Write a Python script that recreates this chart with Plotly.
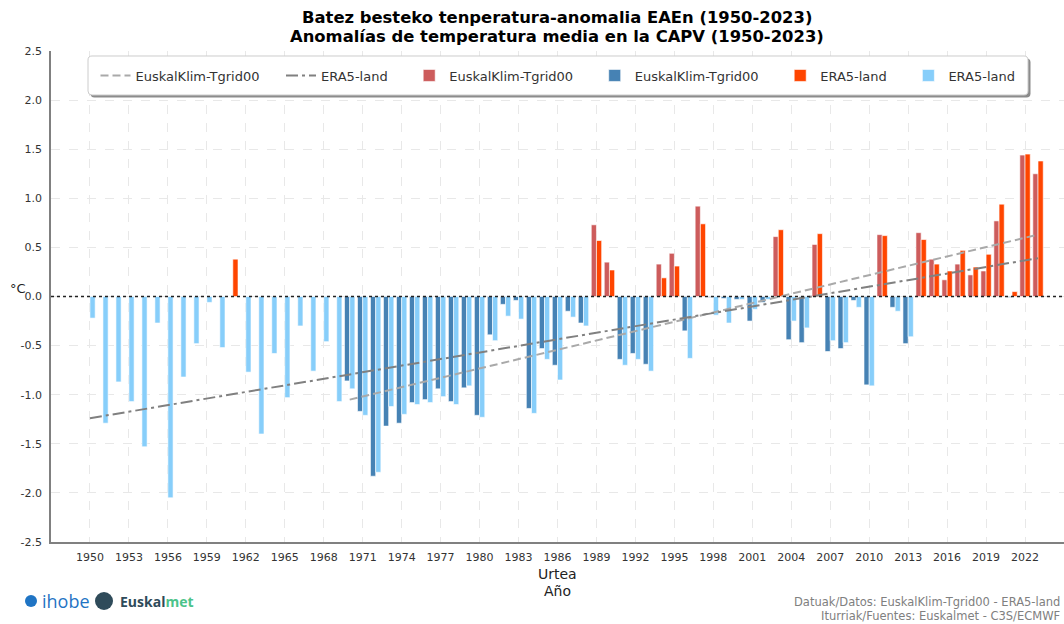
import plotly.graph_objects as go

years = list(range(1950, 2024))

era5 = [-0.22, -1.29, -0.87, -1.07, -1.53, -0.27, -2.05, -0.82, -0.48, -0.06,
        -0.52, 0.38, -0.77, -1.40, -0.58, -1.03, -0.30, -0.76, -0.46, -1.07,
        -0.94, -1.21, -1.79, -1.12, -1.20, -1.10, -1.08, -1.02, -1.10, -0.91,
        -1.23, -0.45, -0.20, -0.23, -1.19, -0.64, -0.85, -0.21, -0.30, 0.57,
        0.27, -0.70, -0.64, -0.76, 0.19, 0.31, -0.63, 0.74, -0.19, -0.27,
        -0.03, -0.13, -0.03, 0.68, -0.25, -0.32, 0.64, -0.45, -0.47, -0.11,
        -0.91, 0.62, -0.15, -0.41, 0.58, 0.33, 0.26, 0.47, 0.30, 0.43,
        0.94, 0.05, 1.45, 1.38]

euskal = [None] * 20 + [
        -0.86, -1.17, -1.83, -1.32, -1.29, -1.08, -1.05, -0.94, -1.07, -0.93,
        -1.21, -0.39, -0.08, -0.04, -1.14, -0.53, -0.70, -0.15, -0.27, 0.73,
        0.35, -0.64, -0.58, -0.69, 0.33, 0.44, -0.35, 0.92, -0.01, -0.02,
        -0.03, -0.25, -0.06, 0.61, -0.44, -0.47, 0.53, -0.56, -0.53, -0.04,
        -0.90, 0.63, -0.11, -0.48, 0.65, 0.38, 0.17, 0.33, 0.22, 0.26,
        0.77, -0.01, 1.44, 1.25]

# trend lines (start/end points)
trend_era5_x = [1950, 2023]
trend_era5_y = [-1.24, 0.39]
trend_eusk_x = [1970, 2023]
trend_eusk_y = [-1.05, 0.63]

xtick_vals = list(range(1950, 2023, 3))
xtick_text = [str(v) for v in xtick_vals]
ytick_vals = [2.5, 2.0, 1.5, 1.0, 0.5, 0.0, -0.5, -1.0, -1.5, -2.0, -2.5]
ytick_text = ["2.5", "2.0", "1.5", "1.0", "0.5", "0.0", "-0.5", "-1.0", "-1.5", "-2.0", "-2.5"]

FONT = "DejaVu Sans"
PAD = "\u00a0\u00a0\u00a0\u00a0"

def pos(vals):
    return [v if (v is not None and v >= 0) else None for v in vals]

def neg(vals):
    return [v if (v is not None and v < 0) else None for v in vals]

fig = go.Figure()
fig.add_trace(go.Scatter(x=trend_eusk_x, y=trend_eusk_y, mode="lines",
                         name="EuskalKlim-Tgrid00" + PAD,
                         line=dict(color="#a9a9a9", width=2, dash="8px,4px")))
fig.add_trace(go.Scatter(x=trend_era5_x, y=trend_era5_y, mode="lines",
                         name="ERA5-land" + PAD,
                         line=dict(color="#808080", width=2, dash="12px,4px,3px,4px")))

bar_line = dict(color="white", width=0.6)
fig.add_trace(go.Bar(x=years, y=pos(euskal), name="EuskalKlim-Tgrid00" + PAD,
                     width=0.4, offset=-0.4, marker=dict(color="#cd5c5c", line=bar_line)))
fig.add_trace(go.Bar(x=years, y=neg(euskal), name="EuskalKlim-Tgrid00" + PAD,
                     width=0.4, offset=-0.4, marker=dict(color="#4682b4", line=bar_line)))
fig.add_trace(go.Bar(x=years, y=pos(era5), name="ERA5-land" + PAD,
                     width=0.4, offset=0.0, marker=dict(color="#ff4500", line=bar_line)))
fig.add_trace(go.Bar(x=years, y=neg(era5), name="ERA5-land",
                     width=0.4, offset=0.0, marker=dict(color="#87cefa", line=bar_line)))

W, H = 1064, 624
L, R, T, B = 51, 0, 51, 82
pw, ph = W - L - R, H - T - B

def px(x):
    return (x - L) / pw

def py(y):
    return (H - B - y) / ph

def rounded_rect(x0, y0, x1, y1, r):
    pts = [
        ("M", [(x0 + r, y0)]), ("L", [(x1 - r, y0)]), ("Q", [(x1, y0), (x1, y0 + r)]),
        ("L", [(x1, y1 - r)]), ("Q", [(x1, y1), (x1 - r, y1)]),
        ("L", [(x0 + r, y1)]), ("Q", [(x0, y1), (x0, y1 - r)]),
        ("L", [(x0, y0 + r)]), ("Q", [(x0, y0), (x0 + r, y0)]),
    ]
    s = ""
    for cmd, ps in pts:
        s += cmd + " ".join(f"{px(a):.5f},{py(b):.5f}" for a, b in ps) + " "
    return s + "Z"

annotations = [
    dict(text="<b>Batez besteko tenperatura-anomalia EAEn (1950-2023)</b>",
         x=px(557), y=py(17), font=dict(size=16.4, color="black", family=FONT)),
    dict(text="<b>Anomalías de temperatura media en la CAPV (1950-2023)</b>",
         x=px(557), y=py(36), font=dict(size=16.4, color="black", family=FONT)),
    dict(text="Urtea", x=px(557), y=py(574), font=dict(size=14, color="#222", family=FONT)),
    dict(text="Año", x=px(557), y=py(591), font=dict(size=14, color="#222", family=FONT)),
    dict(text="°C", x=px(18), y=py(288), font=dict(size=13, color="#222", family=FONT)),
    dict(text="Datuak/Datos: EuskalKlim-Tgrid00 - ERA5-land", x=px(1062), y=py(602),
         xanchor="right", font=dict(size=11.5, color="#808080", family=FONT)),
    dict(text="Iturriak/Fuentes: Euskalmet - C3S/ECMWF", x=px(1062), y=py(616),
         xanchor="right", font=dict(size=11.5, color="#808080", family=FONT)),
    dict(text="ihobe", x=px(40), y=py(601), xanchor="left",
         font=dict(size=18, color="#1f74c4", family="Open Sans")),
    dict(text="<b>Euskal<span style='color:#4cc38a'>met</span></b>", x=px(118), y=py(601), xanchor="left",
         font=dict(size=14, color="#2f4b5a", family="Open Sans")),
]
for a in annotations:
    a.update(xref="paper", yref="paper", showarrow=False)
    a.setdefault("xanchor", "center")
    a.setdefault("yanchor", "middle")

shapes = [
    # legend shadow + frame
    dict(type="path", xref="paper", yref="paper", path=rounded_rect(90.5, 58.5, 1030.5, 97.5, 4),
         fillcolor="#8c8c8c", line=dict(width=0), layer="above"),
    dict(type="path", xref="paper", yref="paper", path=rounded_rect(88, 56, 1028, 95, 4),
         fillcolor="white", line=dict(color="#cccccc", width=1), layer="above"),
    # zero line
    dict(type="line", xref="paper", yref="y", x0=0, x1=1, y0=0, y1=0,
         line=dict(color="#222", width=1.5, dash="dot"), layer="above"),
    # logos
    dict(type="circle", xref="paper", yref="paper",
         x0=px(25), x1=px(37), y0=py(607), y1=py(595),
         fillcolor="#1f74c4", line=dict(width=0)),
    dict(type="circle", xref="paper", yref="paper",
         x0=px(95), x1=px(113), y0=py(610), y1=py(592),
         fillcolor="#2f4b5a", line=dict(width=0)),
]

fig.update_layout(
    width=W, height=H,
    margin=dict(l=L, r=R, t=T, b=B, autoexpand=False),
    paper_bgcolor="white", plot_bgcolor="white",
    barmode="overlay",
    font=dict(family=FONT, size=11, color="#333"),
    showlegend=True,
    legend=dict(orientation="h", x=px(558), xanchor="center", y=py(75.5), yanchor="middle",
                bgcolor="rgba(0,0,0,0)", borderwidth=0,
                font=dict(size=13, color="#333", family=FONT),
                traceorder="normal", itemwidth=30),
    annotations=annotations,
    shapes=shapes,
)
fig.update_xaxes(range=[1947, 2025], tickmode="array", tickvals=xtick_vals, ticktext=xtick_text,
                 showgrid=True, gridcolor="#e8e8e8", griddash="dash", gridwidth=1,
                 showline=True, linecolor="#808080", linewidth=1.5, zeroline=False,
                 ticks="", ticklabelstandoff=4, tickfont=dict(size=11, color="#333"))
fig.update_yaxes(range=[-2.5, 2.5], tickmode="array", tickvals=ytick_vals, ticktext=ytick_text,
                 showgrid=True, gridcolor="#e8e8e8", griddash="dash", gridwidth=1,
                 showline=True, linecolor="#808080", linewidth=1.5, zeroline=False,
                 ticks="", ticklabelstandoff=5, tickfont=dict(size=11, color="#333"))

fig.write_html("out.html", config={"displayModeBar": False},
               post_script="document.body.style.margin='0';document.body.style.overflow='hidden';")
